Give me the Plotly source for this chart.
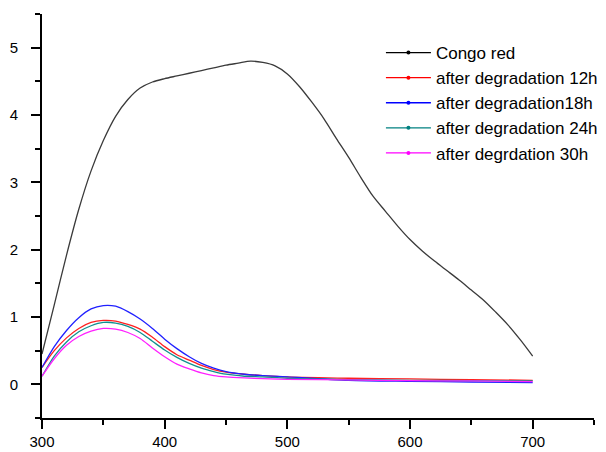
import plotly.graph_objects as go

# ---- data ----
congo_x = [300, 310, 320, 330, 340, 350, 360, 370, 380, 390, 400, 410, 420, 430, 440, 450,
           460, 470, 480, 490, 500, 510, 520, 530, 540, 550, 560, 570, 580, 590, 600, 610,
           620, 630, 640, 650, 660, 670, 680, 690, 700]
congo_y = [0.45, 1.18, 1.92, 2.60, 3.17, 3.62, 3.98, 4.23, 4.40, 4.49, 4.54, 4.58, 4.62, 4.66,
           4.70, 4.74, 4.77, 4.80, 4.78, 4.73, 4.61, 4.42, 4.19, 3.94, 3.65, 3.37, 3.07, 2.79,
           2.57, 2.35, 2.15, 1.98, 1.83, 1.69, 1.55, 1.40, 1.25, 1.07, 0.88, 0.66, 0.42]

deg_x = [300, 310, 320, 330, 340, 350, 360, 370, 380, 390, 400, 410, 420, 430, 440, 450,
         465, 480, 500, 550, 600, 650, 700]
deg12_y = [0.25, 0.50, 0.69, 0.83, 0.92, 0.95, 0.94, 0.89, 0.82, 0.70, 0.56, 0.44, 0.36, 0.28,
           0.22, 0.18, 0.15, 0.13, 0.11, 0.09, 0.08, 0.07, 0.06]
deg18_y = [0.25, 0.56, 0.80, 0.99, 1.12, 1.17, 1.16, 1.08, 0.97, 0.83, 0.67, 0.53, 0.41, 0.31,
           0.24, 0.19, 0.15, 0.13, 0.11, 0.06, 0.045, 0.035, 0.025]
deg24_y = [0.12, 0.42, 0.63, 0.78, 0.87, 0.92, 0.91, 0.86, 0.77, 0.64, 0.51, 0.40, 0.31, 0.24,
           0.19, 0.15, 0.12, 0.11, 0.09, 0.07, 0.06, 0.055, 0.05]
deg30_y = [0.12, 0.38, 0.58, 0.71, 0.79, 0.83, 0.82, 0.77, 0.68, 0.54, 0.41, 0.30, 0.23, 0.17,
           0.13, 0.11, 0.095, 0.085, 0.075, 0.065, 0.055, 0.05, 0.04]

names = ["Congo red", "after degradation 12h", "after degradation18h",
         "after degradation 24h", "after degrdation 30h"]
colors = ["#3a3a3a", "#ff2020", "#2020ff", "#109090", "#ff20ff"]
legend_colors = ["#000000", "#ff0000", "#0000ff", "#008080", "#ff00ff"]

x_tickvals = [300, 400, 500, 600, 700]
y_tickvals = [0, 1, 2, 3, 4, 5]

series = [(congo_x, congo_y), (deg_x, deg12_y), (deg_x, deg18_y), (deg_x, deg24_y), (deg_x, deg30_y)]

fig = go.Figure()
for (xs, ys), c in zip(series, colors):
    fig.add_trace(go.Scatter(x=xs, y=ys, mode="lines", showlegend=False,
                             line=dict(color=c, width=1.3, shape="spline", smoothing=0.8)))
# legend entries (line with centre dot)
for n, c in zip(names, legend_colors):
    fig.add_trace(go.Scatter(x=[None], y=[None], mode="lines+markers", name=n,
                             line=dict(color=c, width=1.3),
                             marker=dict(color=c, size=4)))

axis_common = dict(showline=True, linecolor="black", linewidth=2, ticks="outside",
                   ticklen=9, tickwidth=2, tickcolor="black", showgrid=False, zeroline=False,
                   automargin=False,
                   tickfont=dict(family="Liberation Sans, Arial", size=15, color="black"))

fig.update_xaxes(range=[300, 750], tickvals=x_tickvals,
                 minor=dict(dtick=50, tick0=300, ticks="outside", ticklen=5, tickwidth=2,
                            tickcolor="black", showgrid=False),
                 **axis_common)
fig.update_yaxes(range=[-0.5, 5.5], tickvals=y_tickvals, ticklabelstandoff=10,
                 minor=dict(dtick=0.5, tick0=0, ticks="outside", ticklen=5, tickwidth=2,
                            tickcolor="black", showgrid=False),
                 **axis_common)

fig.update_layout(
    width=606, height=452,
    margin=dict(l=42, r=12, t=14, b=34, autoexpand=False),
    paper_bgcolor="white", plot_bgcolor="white",
    legend=dict(x=0.614, y=0.948, xanchor="left", yanchor="top", bgcolor="rgba(0,0,0,0)",
                font=dict(family="Liberation Sans, Arial", size=17, color="black"),
                itemwidth=45, tracegroupgap=0),
)

fig.write_html("out.html", config={"displayModeBar": False})

# remove the default page margin so the figure sits at the window's top-left corner
with open("out.html", "r", encoding="utf-8") as f:
    html = f.read()
html = html.replace("<head>", "<head><style>html,body{margin:0;padding:0;overflow:hidden;}</style>", 1)
with open("out.html", "w", encoding="utf-8") as f:
    f.write(html)
